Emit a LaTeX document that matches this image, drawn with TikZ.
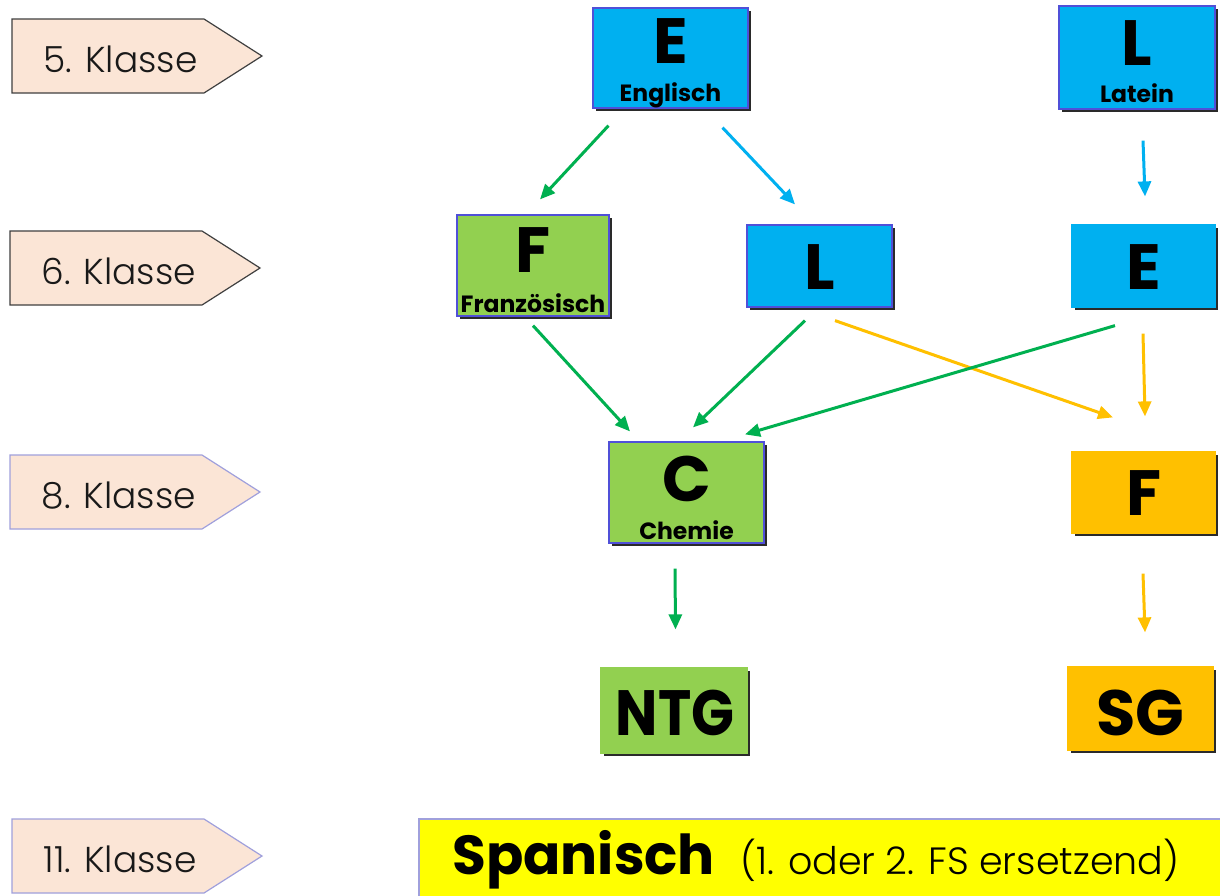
\documentclass[tikz,border=0pt]{standalone}
\usepackage{fontspec}
\setmainfont{Poppins}
\newfontfamily\lightf{Poppins Light}
\usetikzlibrary{shadows,arrows.meta,calc}
\definecolor{blueC}{HTML}{00B0F0}
\definecolor{greenC}{HTML}{92D050}
\definecolor{orangeC}{HTML}{FFC000}
\definecolor{yellowC}{HTML}{FFFF00}
\definecolor{peachC}{HTML}{FBE5D6}
\definecolor{arrowG}{HTML}{00B050}
\definecolor{bordB}{HTML}{5050D8}
\definecolor{lavC}{HTML}{A0A0DC}
\definecolor{shadC}{HTML}{2A2A2A}
\begin{document}
\begin{tikzpicture}[x=1pt,y=-1pt,
  subj/.style={rectangle, inner sep=0pt, line width=1.2pt,
    drop shadow={shadow xshift=3pt, shadow yshift=-3pt, fill=shadC, opacity=1}},
  big/.style={font=\fontsize{64}{64}\selectfont\bfseries, inner sep=0pt, anchor=base},
  sub/.style={font=\fontsize{23.5}{23.5}\selectfont\bfseries, inner sep=0pt, anchor=base},
  tagtext/.style={font=\lightf\fontsize{36}{36}\selectfont, inner sep=0pt, anchor=base west, text=black!90},
  arr/.style={line width=3pt, -{Triangle[length=15pt,width=13pt]}},
  tagplain/.style={fill=peachC, draw=black!75, line width=1.2pt},
  tagshad/.style={fill=peachC, draw=lavC, line width=1.2pt,
    drop shadow={shadow xshift=2pt, shadow yshift=-2.5pt, fill=shadC, opacity=1}},
  klasse/.pic={\path[pic actions] (0,0) -- (192,0) -- (250,37) -- (192,74) -- (0,74) -- cycle;
    \node[tagtext] (-txt) at (31,53) {#1};}
]
\useasboundingbox (0,0) rectangle (1220,895);
\clip (0,0) rectangle (1220,895);
\fill[white] (0,0) rectangle (1220,895);

% class tags
\pic[tagplain] (t5) at (12,19) {klasse={5. Klasse}};
\pic[tagplain] (t6) at (10,231) {klasse={6. Klasse}};
\pic[tagshad] (t8) at (10,455) {klasse={8. Klasse}};
\pic[tagshad] (t11) at (12,819) {klasse={11. Klasse}};

% subject boxes
\node[subj, fill=blueC, draw=bordB, minimum width=155pt, minimum height=100pt] (e5) at (670.5,58) {};
\node[big] (e5t) at (670.5,63) {E};
\node[sub] (e5s) at (670.5,101) {Englisch};

\node[subj, fill=blueC, draw=bordB, minimum width=156pt, minimum height=103pt] (l5) at (1137,57.5) {};
\node[big] (l5t) at (1137,65) {L};
\node[sub] (l5s) at (1137,102) {Latein};

\node[subj, fill=greenC, draw=bordB, minimum width=152pt, minimum height=101pt] (f6) at (533,265.5) {};
\node[big] (f6t) at (533,272) {F};
\node[sub] (f6s) at (533,312) {Französisch};

\node[subj, fill=blueC, draw=bordB, minimum width=145pt, minimum height=82pt] (l6) at (819.5,266) {};
\node[big] (l6t) at (819.5,289) {L};

\node[subj, fill=blueC, draw=blueC, minimum width=143pt, minimum height=82pt] (e6) at (1143.5,266) {};
\node[big] (e6t) at (1143.5,289) {E};

\node[subj, fill=greenC, draw=bordB, minimum width=155pt, minimum height=101pt] (c8) at (686.5,492.5) {};
\node[big] (c8t) at (686.5,501) {C};
\node[sub] (c8s) at (686.5,539) {Chemie};

\node[subj, fill=orangeC, draw=orangeC, minimum width=143pt, minimum height=81pt] (f8) at (1143.5,492.5) {};
\node[big] (f8t) at (1143.5,515) {F};

\node[subj, fill=greenC, draw=greenC, minimum width=146pt, minimum height=85pt] (ntg) at (674,710.5) {};
\node[big] (ntgt) at (675,735) {\scalebox{0.88}[1]{NTG}};

\node[subj, fill=orangeC, draw=orangeC, minimum width=145pt, minimum height=83pt] (sg) at (1140.5,708.5) {};
\node[big] (sgt) at (1140.5,735) {SG};

% Spanisch bar
\node[rectangle, fill=yellowC, draw=lavC, line width=1.5pt, anchor=north west,
  minimum width=830pt, minimum height=110pt, inner sep=0pt] (sp) at (418,818) {};
\node[font=\fontsize{55}{55}\selectfont\bfseries, inner sep=0pt, anchor=base west] (spt) at (452,874) {Spanisch};
\node[font=\lightf\fontsize{38}{38}\selectfont, inner sep=0pt, anchor=base west] (spx) at (740,874) {(1. oder 2. FS ersetzend)};

% connectors
\draw[arr, arrowG]  ($(e5.south)+(-62,17)$) -- ($(f6.north)+(7,-15)$);
\draw[arr, blueC]   ($(e5.south)+(52,19)$) -- ($(l6.north)+(-24.5,-20)$);
\draw[arr, blueC]   ($(l5.south)+(6,31)$) -- ($(e6.north)+(1.5,-28)$);
\draw[arr, arrowG]  ($(f6.south)+(0,9)$) -- ($(c8.north)+(-56.5,-10)$);
\draw[arr, arrowG]  ($(l6.south)+(-14.5,13)$) -- ($(c8.north)+(6.5,-14)$);
\draw[arr, orangeC] ($(l6.south)+(15.5,13)$) -- ($(f8.north)+(-30.5,-34)$);
\draw[arr, arrowG]  ($(e6.south)+(-28.5,18)$) -- ($(c8.north)+(58.5,-7)$);
\draw[arr, orangeC] ($(e6.south)+(-0.5,26)$) -- ($(f8.north)+(1.5,-35)$);
\draw[arr, arrowG]  ($(c8.south)+(-11.5,25)$) -- ($(ntg.north)+(1.5,-38)$);
\draw[arr, orangeC] ($(f8.south)+(-0.5,40)$) -- ($(sg.north)+(4.5,-34)$);
\end{tikzpicture}
\end{document}
